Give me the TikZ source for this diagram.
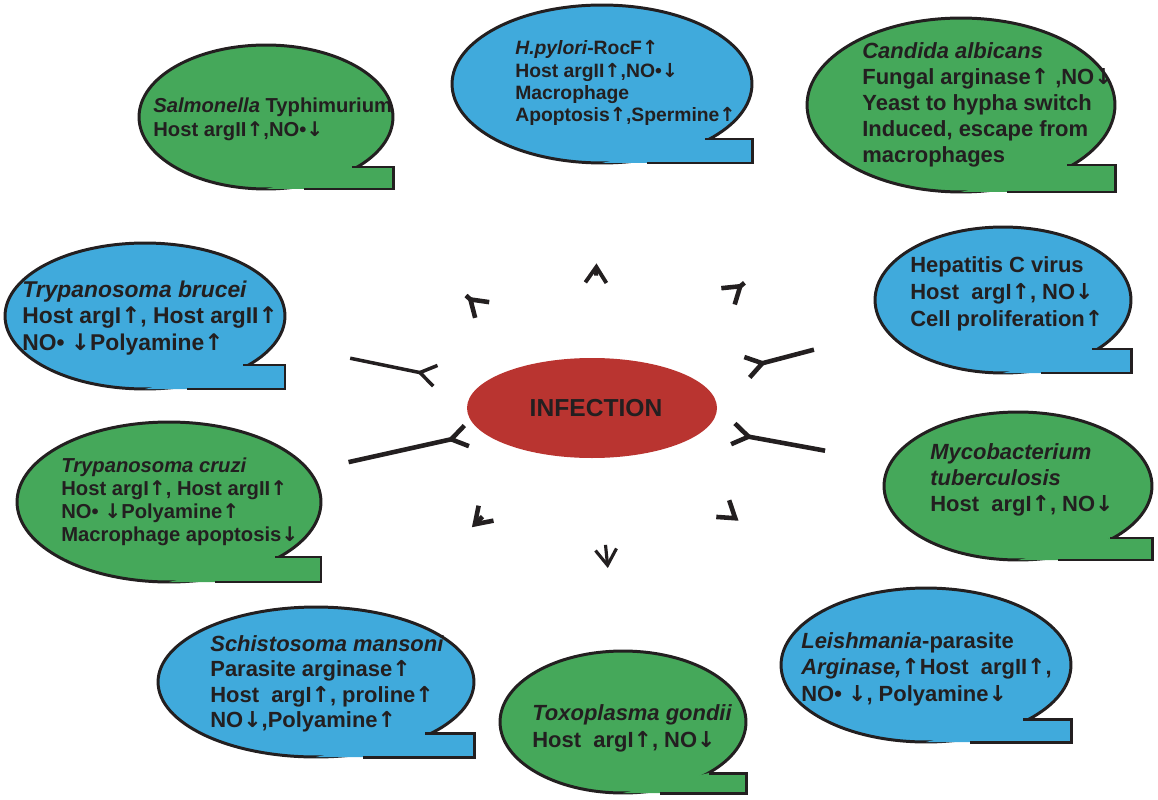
\documentclass[tikz,border=0pt]{standalone}
\usepackage{fontspec}
\setmainfont{Liberation Sans}
\newfontfamily\arrfont{DejaVu Sans}
\usetikzlibrary{shapes.geometric,arrows.meta,positioning,calc}
\definecolor{grn}{RGB}{69,168,90}
\definecolor{blu}{RGB}{64,170,220}
\definecolor{infred}{RGB}{185,52,48}
\definecolor{ink}{RGB}{35,31,32}
\newcommand\up{{\arrfont\bfseries ↑}}
\newcommand\dn{{\arrfont\bfseries ↓}}
% callout: name, cx, cy, rx, ry, colour, notch x, tail top
\newcommand\callout[8]{%
  \node[bubble,fill=#6,minimum width=#4*0.04cm,minimum height=#5*0.04cm] (#1) at (#2,#3) {};
  \fill[#6] (#7-3,#8) -- (#2+#4,#8) -- (#2+#4,#3+#5) -- (#2,#3+#5) -- cycle;
  \draw[outline] (#7-3,#8) -- (#2+#4,#8) -- (#2+#4,#3+#5) -- (#2+0.3*#4,#3+#5);
}
\begin{document}
\begin{tikzpicture}[x=0.02cm,y=-0.02cm,>={Straight Barb[length=9pt,width=12pt]}]
\tikzset{
  outline/.style={draw=ink,line width=1.7pt,line join=miter},
  bubble/.style={ellipse,outline,inner sep=0pt},
  txt/.style 2 args={anchor=west,align=left,inner sep=0pt,text=ink,font=\bfseries\fontsize{#1}{#2}\selectfont},
  link/.style 2 args={->,draw=ink,line width=2.6pt,shorten <=#1*0.02cm,shorten >=#2*0.02cm},
}
\useasboundingbox (0,0) rectangle (1158,800);
% centre
\node[ellipse,fill=infred,minimum width=250*0.02cm,minimum height=100*0.02cm,inner sep=0pt] (inf) at (592,408) {};
\node[text=ink,font=\bfseries\fontsize{14}{16}\selectfont] (inflabel) at (596,408) {INFECTION};
% the callouts
\callout{salm}{266}{117}{127}{72}{grn}{355}{167}
\callout{hpyl}{602}{84}{150}{79}{blu}{708}{139}
\callout{cand}{961}{105}{154}{87}{grn}{1070}{165}
\callout{hep}{1003}{300}{128}{73}{blu}{1095}{349}
\callout{myco}{1018}{486}{134}{74}{grn}{1113}{538}
\callout{leish}{926}{665}{145}{77}{blu}{1026}{719}
\callout{toxo}{623}{722}{123}{71}{grn}{712}{773}
\callout{schis}{316}{682}{158}{75}{blu}{428}{733}
\callout{cruzi}{169}{502}{152}{80}{grn}{278}{557}
\callout{brucei}{145}{316}{140}{73}{blu}{246}{365}
% texts
\node[txt={11.5}{13.6}] (salmtxt) at (153,119) {\itshape Salmonella\upshape\ Typhimurium\\Host argII\up,NO•\dn};
\node[txt={11}{12.6}] (hpyltxt) at (515,83) {\itshape H.pylori\upshape -RocF\up\\Host argII\up,NO•\dn\\Macrophage\\Apoptosis\up,Spermine\up};
\node[txt={12.5}{14.7}] (candtxt) at (862,105) {\itshape Candida albicans\\Fungal arginase\up\ ,NO\dn\\Yeast to hypha switch\\Induced, escape from\\macrophages};
\node[txt={12.5}{15.3}] (heptxt) at (910,294) {Hepatitis C virus\\Host\ \ argI\up, NO\dn\\Cell proliferation\up};
\node[txt={12.5}{15}] (mycotxt) at (930,480) {\itshape Mycobacterium\\\itshape tuberculosis\\Host\ \ argI\up, NO\dn};
\node[txt={12.5}{15}] (leishtxt) at (801,669) {\itshape Leishmania\upshape -parasite\\\itshape Arginase,\upshape\up Host\ \ argII\up,\\NO• \dn, Polyamine\dn};
\node[txt={12.5}{15.3}] (toxotxt) at (532,728) {\itshape Toxoplasma gondii\\Host\ \ argI\up, NO\dn};
\node[txt={12.5}{14.5}] (schistxt) at (210,684) {\itshape Schistosoma mansoni\\Parasite arginase\up\\Host\ \ argI\up, proline\up\\NO\dn,Polyamine\up};
\node[txt={11.5}{13.2}] (cruzitxt) at (61,502) {\itshape Trypanosoma cruzi\\Host argI\up, Host argII\up\\NO• \dn Polyamine\up\\Macrophage apoptosis\dn};
\node[txt={13}{15.3}] (brucitxt) at (22,318) {\itshape Trypanosoma brucei\\Host argI\up, Host argII\up\\NO• \dn Polyamine\up};
% arrows out of the centre
\draw[link={100}{177}] (inf) -- (salm);
\draw[link={82}{99},line width=2.2pt] (inf) -- (hpyl);
\draw[link={126}{167}] (inf) -- (cand);
\draw[link={121}{123}] (inf) -- (hep);
\draw[link={121}{139}] (inf) -- (myco);
\draw[link={108}{131}] (inf) -- (leish);
\draw[link={87}{82},line width=1.8pt] (inf) -- (toxo);
\draw[link={88}{122}] (inf) -- (schis);
\draw[link={137}{140}] (inf) -- (cruzi);
\draw[link={133}{143},line width=2pt] (inf) -- (brucei);
\end{tikzpicture}
\end{document}
